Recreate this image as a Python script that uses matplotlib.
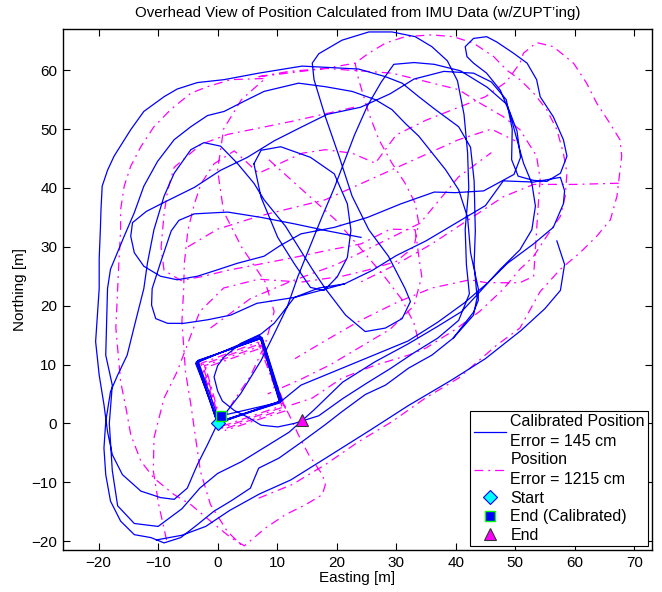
import numpy as np
import matplotlib
matplotlib.use("Agg")
import matplotlib.pyplot as plt

plt.rcParams['font.family'] = ['Liberation Sans', 'DejaVu Sans']

# ---- calibrated (ZUPT + heading calibration) track, Easting/Northing in metres ----
cal_west_loop = [(0, 0), (-1.7, -3.6), (-3.4, -7), (-5.1, -11), (-7.3, -12.9), (-9.6, -12.6),
                 (-12.9, -11.5), (-16, -8.7), (-17.7, -5.3), (-18.5, -1.4), (-19.1, 3.2),
                 (-19.9, 8.2), (-20.5, 13.9), (-20.2, 18.4), (-19.9, 22.9), (-19.9, 28),
                 (-19.7, 33), (-19.6, 36.3), (-19.4, 40.3), (-18.5, 43), (-17.4, 45.4),
                 (-14.6, 49.9), (-12.4, 53), (-9, 55.5), (-6.8, 56.8), (-3.4, 57.9),
                 (1.1, 58.4), (6.9, 59.5), (14.2, 60.7), (18.1, 60.5), (23.7, 60.2),
                 (28.2, 58.9), (31, 57.8), (33.8, 55.5), (36.6, 53.3), (40.5, 50.4),
                 (42.5, 46.9), (43.1, 41.2), (43.3, 32.7), (43.1, 27), (43.6, 21.4),
                 (43, 18.4), (39.6, 14.5), (36, 11.6), (32.1, 9.4), (28.2, 6.5), (24.8, 4.9),
                 (20.9, 2), (18.1, -0.2), (14.2, -3.1), (10.3, -5.9), (6.9, -7.6), (5.5, -11),
                 (2.2, -13.2), (-0.6, -14.9), (-3.4, -17.2), (-6.2, -19.4), (-9, -20.3),
                 (-11.2, -19.4), (-14, -18.9), (-16.3, -16.6), (-18, -13.2), (-18.8, -8.7),
                 (-19.1, -4.2), (-18.8, 0.3), (-18, 5.4), (-16.8, 8.2), (-15.2, 11.6),
                 (-13.8, 17.3), (-12.4, 22.9), (-11.8, 27.2), (-10.7, 32.9), (-9, 38.6),
                 (-7.3, 42.5), (-4.5, 46.5), (-2.3, 47.7), (0.5, 47.1), (3.3, 44.2),
                 (6.1, 40.8), (7.8, 38), (11.4, 33.5), (15.9, 26.2), (18.1, 22.9),
                 (21.5, 18.4), (24.8, 15.6), (28.2, 16.2), (31, 17.8), (32.4, 20.7),
                 (31.5, 22.9), (28.7, 28.4), (25.4, 32.9), (22.6, 38.6), (20.4, 45.4),
                 (18.1, 52.1), (16.2, 58.4), (15.9, 61.2), (17, 62.8), (20.9, 65.1),
                 (25.4, 66.5), (29.3, 66.5), (33.2, 65.7), (36, 64), (38.6, 61.6),
                 (40.3, 58.2), (41.4, 52.5), (42, 46), (42.2, 40), (41.6, 33), (41.8, 27),
                 (42.3, 22), (40.5, 17.5), (37, 14.5), (33, 12), (29, 9.3), (25, 6.8),
                 (21, 4.2), (17, 1.3), (12.9, 0), (10.1, -0.6), (7.3, -0.3), (5, 1.1),
                 (2.8, 2.2), (0.8, 3.8), (0, 5.5), (-0.6, 7.9), (0, 9.8), (1.1, 11.3),
                 (3.9, 13.6), (7.3, 15.2), (9.5, 17), (12.9, 21.4), (17, 23), (21.3, 23.7)]

cal_north_loop = [(0, 0), (3.9, 5.1), (7.3, 10.7), (9.5, 15.2), (11.7, 19.8), (13.5, 25),
                  (15.5, 30), (17.5, 35), (19.6, 40), (21.5, 45), (23, 49), (25.2, 54),
                  (27.5, 58), (29.6, 61), (33, 61.3), (36.4, 61), (40.8, 59.9), (45.3, 57.1),
                  (48.6, 54.2), (50.3, 49.7), (50.9, 45.2), (49.8, 42.3), (46.9, 40.7),
                  (44.7, 39.5), (40, 39.2), (36.4, 39.3), (30.8, 37.3), (25.2, 35),
                  (19.6, 33.3), (14, 32.2), (10.5, 30.2), (7.8, 28.4), (3.3, 27.2), (0, 26.1),
                  (-3.4, 25), (-6.8, 24.4), (-9.6, 25), (-12.4, 26.7), (-14, 29),
                  (-14.6, 31.8), (-14.3, 34.1), (-12, 36), (-9.5, 37.3), (-3.9, 40.1),
                  (0.5, 43), (5, 45.2), (9.5, 48), (14, 50.3), (18.4, 52.5), (24, 53.7),
                  (29, 56), (33, 58.5), (38, 59.8), (43, 59.5), (46, 58), (48.5, 55),
                  (49.5, 50), (49.4, 44.8), (50.5, 42), (53, 41.3), (55.3, 41.1),
                  (57.6, 42.5), (58.7, 45.4), (58.1, 48.2), (56.4, 52.1), (54.2, 55.5),
                  (53.6, 58.4), (52, 61.2), (49.7, 62.9), (46.9, 64.8), (45.2, 65.7),
                  (43, 65.4), (41.6, 64), (41.9, 62.3), (43, 61.2), (45.2, 59.5),
                  (47.5, 56.6), (49.1, 52.7), (50.3, 48.2), (51.4, 44.2), (52.8, 40.8),
                  (53.4, 36.9), (52.8, 32.9), (50.8, 29.5), (47.5, 26.2), (44.1, 22.4),
                  (41, 19), (37, 16.5), (32, 13.5), (26.5, 10.5), (21, 7), (16.2, 2.3),
                  (12, -1.5), (8, -4), (4, -6.5), (0, -8.5), (-3, -11), (-6, -14.5),
                  (-10, -17.5), (-14, -17), (-16.8, -14), (-17.7, -8), (-18.2, 0),
                  (-17.7, 6.5), (-18.8, 11.6), (-18.5, 22.9), (-18, 26.2), (-15.7, 31.8),
                  (-14, 35.8), (-12.4, 40.3), (-10.1, 44.5), (-7.3, 48.2), (-4.5, 50.4),
                  (-1.7, 52.3), (1.1, 53), (4.4, 54.7), (7.8, 56.4), (13.6, 57.8),
                  (18.1, 57.2), (22.6, 56.4), (26.5, 55), (29.3, 53.3), (31.5, 51),
                  (33.8, 48.8), (36, 46), (38.3, 43.1), (40.5, 39.7), (42, 35), (42.5, 29),
                  (43.8, 22.9), (43.8, 20.9), (43, 18.9), (41.6, 17.1), (39.6, 14.5)]

cal_mid_loop = [(24.1, 31.6), (18.5, 32.7), (12.9, 33.9), (7.3, 35), (1.7, 35.9), (-3.9, 35.6),
                (-6.5, 34.5), (-7.8, 32.7), (-9.6, 27.3), (-11, 22.9), (-11.1, 20.1),
                (-10.4, 17.8), (-8.4, 17), (-5.7, 17), (-1.7, 17.6), (2.2, 18.4), (6.6, 20.4),
                (12.9, 21.4), (21.3, 23.7), (26, 26), (30, 28.5), (35, 31), (40, 34),
                (45, 37), (48, 41.2), (53.1, 41), (57.6, 41.8), (58.3, 39.5), (58.1, 37.3),
                (56.4, 33.3), (53.1, 30.5), (48.7, 27.2), (45.3, 23.8), (41.5, 20.5),
                (37, 17.2), (32, 14), (26, 11.5), (20, 9), (14, 6.5), (10.6, 3.7)]

cal_circle = [(6.1, 44.1), (7.3, 46.4), (10.6, 47), (15.6, 45.2), (19.6, 42.4), (21.8, 37.3),
              (22.4, 32.8), (21.8, 28.2), (20.1, 24.9), (17.9, 22.6), (15.6, 23.1),
              (12.9, 27.1), (10.1, 31.6), (7.3, 38.4), (6.1, 44.1)]

cal_south = [(-10.3, -19.8), (-6, -19), (-2, -17.5), (2, -14.8), (7, -12), (12.3, -9.6),
             (18, -6), (25.7, -1.1), (32, 3), (39.2, 7.3), (45, 11), (51, 15.8),
             (55, 19.5), (57.6, 22.6), (58.3, 27), (57, 31)]

# square walked repeatedly near the start
cal_square = [(0, 0), (-3.6, 10.4), (7.3, 14.7), (10.6, 3.7), (0, 0),
              (-3.4, 10.6), (7.5, 14.5), (10.8, 3.9), (0.2, 0.1),
              (-3.7, 10.2), (7.1, 14.9), (10.5, 3.5), (-0.1, 0.2),
              (-3.5, 10.5), (7.4, 14.6), (10.7, 3.8), (0.3, 0.3),
              (-3.3, 10.7), (7.2, 14.4), (10.4, 3.6), (0.6, 1.3)]

cal_segments = [cal_west_loop, cal_north_loop, cal_mid_loop, cal_circle, cal_south, cal_square]

# ---- uncalibrated (ZUPT only) track ----
raw_outer = [(0.5, -0.5), (2.5, 3.5), (5.5, 8), (8, 13.5), (9.5, 19), (8, 24), (4, 30),
             (1, 36), (0, 43), (1, 50), (4, 55), (8, 58.6), (2.2, 58.4), (-1.7, 57.2),
             (-4.5, 56.1), (-7.9, 53.3), (-10.7, 50.4), (-12.9, 47), (-14.6, 43.7),
             (-15.7, 40.3), (-16.3, 36.3), (-16.3, 32.9), (-16.6, 27.2), (-16.8, 22.9),
             (-17.1, 16.2), (-16.3, 7.1), (-15.4, 2.6), (-14.6, -1.9), (-12.9, -6.4),
             (-10.7, -9.3), (-7.3, -12.1), (-4.5, -13.8), (-1.2, -16.6), (2.2, -19.4),
             (4.5, -20.8), (8, -17.8), (11.4, -15.5), (14.8, -13.8), (17.6, -12.1),
             (18.1, -10.4), (17.6, -8.7), (15.3, -5.3), (13.6, -2), (12, 1.5), (9.5, 6),
             (8.6, 10)]

raw_top = [(6.9, 58.9), (12, 59.8), (18.1, 60.3), (23.1, 61.2), (25.4, 62.9), (28.2, 64.6),
           (31.5, 65.7), (36, 66), (39.6, 65.7), (43, 64.6), (46.4, 62.3), (48.6, 60),
           (50.8, 58.4), (53.1, 56.1), (55.3, 53.3), (57, 49.9), (58.1, 45.9), (58.7, 42.5),
           (58.4, 38.6), (57.6, 35.2), (55.3, 31.8), (53.1, 28.4), (50.8, 26.2), (48, 22.8),
           (44, 19), (40, 16), (35, 12.8), (32.1, 11.6), (26.5, 9.9), (20.9, 7.7),
           (15.9, 4.3), (12, 3)]

raw_east = [(6.9, 58.9), (18.1, 60.3), (29.3, 59.5), (40.5, 56.7), (44.1, 54.4), (48, 52.1),
            (50.8, 49.9), (53.6, 45.4), (54.2, 41.4), (53.9, 37.5), (53.6, 32.9),
            (53.3, 28.4), (53.1, 25), (50.8, 23.9), (45.2, 23.9), (42.4, 24.4), (36, 23),
            (30, 20.5), (24, 17.5), (18, 14), (13, 11)]

raw_far_east = [(6.9, -12.7), (12.5, -10.4), (18.1, -7), (23.7, -3.1), (29.3, 0.3),
                (34.9, 4.3), (40.5, 7.7), (46.9, 13.3), (50.8, 16.2), (54.2, 22.4),
                (57.6, 26.2), (60.9, 29), (63.7, 31.8), (66, 34.6), (67.1, 38.6),
                (67.5, 42), (67.9, 45.4), (67.6, 48.2), (65.9, 51), (63.7, 54.4),
                (62, 57.8), (59.8, 61.2), (56.4, 64), (53.6, 64.7), (51.4, 62.9),
                (50.8, 61.2), (48.5, 58), (45, 55.5), (40, 53.5), (35, 51.5), (30, 49),
                (26.5, 44.2), (22.6, 45.9), (18.1, 46.5), (14.2, 45.9), (6.9, 42.5),
                (2.8, 46.3), (-0.6, 44.1), (-2.8, 40.7), (-3.9, 37.3), (-5, 32.8),
                (-5.6, 27.1), (-5.7, 22.9), (-6, 17.3), (-5.4, 8.8), (-4.5, 3.2),
                (-3.7, -2.5), (-2.9, -8.1), (-1.2, -13.8), (1.6, -18.3), (3.9, -20.6)]

raw_ledge = [(67.4, 40.8), (60, 40.6), (53.1, 40.6), (48, 38.5), (42, 34.5), (36, 30.5),
             (30, 27), (24, 24)]

raw_inner = [(22.9, 53.7), (12.9, 51.4), (1.7, 49.1), (-2.8, 47.4), (-7.3, 43.5),
             (-8.4, 39.6), (-9, 35.6), (-9.5, 29.9), (-9, 26), (-6.2, 24.3), (-2.8, 24.9),
             (1.7, 26), (7.3, 27.1), (12.9, 28.2), (18.5, 29.4), (24.1, 30.5), (29, 33),
             (33.2, 32.9), (33.8, 28.4), (34.3, 25), (33, 20), (29, 16), (24, 13),
             (19, 10), (14, 7.5), (8.4, 5)]

raw_cross = [(23.1, 61.2), (23.7, 58.4), (25.4, 52.7), (27.1, 48.2), (29.3, 44.2),
             (31.5, 40.8), (33.2, 37.4), (33.8, 34), (33, 30), (30, 27.5), (25, 26),
             (20.9, 25), (14, 24), (6.9, 24.5), (1, 23), (-3, 19), (-6.8, 8.8),
             (-9, 4.3), (-10.7, -2.5), (-10.8, -8.1), (-9.9, -13.8), (-8.4, -20.6)]

raw_diag_a = [(8.6, 44.8), (14.2, 39.7), (19.8, 34.6), (23.7, 30.1), (28, 25), (31, 21),
              (33, 17), (34, 13)]
raw_diag_b = [(-5, 30), (0, 33), (6.9, 35.2), (18.1, 38), (29.3, 43.1), (40.5, 48.2),
              (46, 50), (50, 48)]
raw_diag_c = [(-1.2, 16.2), (5.5, 21.2), (12, 24), (20, 27), (28, 31), (34, 34),
              (40.5, 41.9), (46, 46)]

raw_square = [(0.3, -0.3), (-2.8, 10.2), (6.8, 13.8), (10.8, 3), (0.4, -0.6),
              (-2.5, 10), (7.1, 13.5), (11.1, 2.8), (0.6, -0.8),
              (-2.2, 9.8), (7.4, 13.2), (11.4, 2.5), (0.9, -1),
              (-2, 9.5), (7.6, 12.9), (11.6, 2.2), (1.2, -1.2)]

raw_segments = [raw_outer, raw_top, raw_east, raw_far_east, raw_ledge, raw_inner, raw_cross,
                raw_diag_a, raw_diag_b, raw_diag_c, raw_square]

start_pt = (0.0, 0.0)
end_cal_pt = (0.6, 1.3)
end_raw_pt = (14.2, 0.6)

cal_label = "Calibrated Position\nError = 145 cm"
raw_label = "Position\nError = 1215 cm"


def joined(segments):
    xs, ys = [], []
    for seg in segments:
        a = np.array(seg, dtype=float)
        xs.extend(a[:, 0].tolist() + [np.nan])
        ys.extend(a[:, 1].tolist() + [np.nan])
    return np.array(xs), np.array(ys)


fig = plt.figure(figsize=(6.62, 5.92), dpi=100)
ax = fig.add_axes([0.095, 0.071, 0.890, 0.880])

rx, ry = joined(raw_segments)
cx, cy = joined(cal_segments)

ax.plot(cx, cy, color=(0, 0, 1), lw=0.9, label=cal_label, zorder=3)
ax.plot(rx, ry, color=(1, 0, 1), lw=0.9, linestyle=(0, (7, 4, 1.5, 4)), label=raw_label,
        zorder=2)

ax.plot(*start_pt, marker='D', markersize=7, markerfacecolor='cyan',
        markeredgecolor='blue', markeredgewidth=0.8, linestyle='none', label='Start', zorder=5)
ax.plot(*end_cal_pt, marker='s', markersize=6.5, markerfacecolor='blue',
        markeredgecolor='lime', markeredgewidth=1.0, linestyle='none',
        label='End (Calibrated)', zorder=6)
ax.plot(*end_raw_pt, marker='^', markersize=9, markerfacecolor='magenta',
        markeredgecolor='#333333', markeredgewidth=0.8, linestyle='none', label='End',
        zorder=5)

ax.set_xlim(-26, 73)
ax.set_ylim(-21.5, 67)
ax.set_xticks(np.arange(-20, 71, 10))
ax.set_yticks(np.arange(-20, 61, 10))
ax.tick_params(direction='in', top=True, right=True, length=5, width=0.8, labelsize=11,
               pad=4)
for s in ax.spines.values():
    s.set_linewidth(1.0)

ax.set_xlabel('Easting [m]', fontsize=11, labelpad=1)
ax.set_ylabel('Northing [m]', fontsize=11, labelpad=3)
ax.set_title('Overhead View of Position Calculated from IMU Data (w/ZUPT\u2019ing)',
             fontsize=10.8, pad=9)

leg = ax.legend(loc='lower right', fontsize=11.5, frameon=True, fancybox=False,
                framealpha=1, edgecolor='black', handlelength=2.0, handletextpad=0.3,
                borderaxespad=0.25, labelspacing=0.22, borderpad=0.2)
for t in leg.get_texts():
    t.set_linespacing(1.4)
leg.get_frame().set_linewidth(0.8)

fig.savefig('out.png', dpi=100)
